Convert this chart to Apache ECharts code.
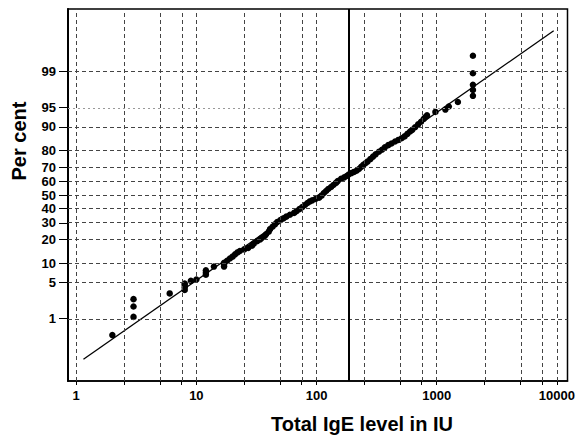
<!DOCTYPE html>
<html>
<head>
<meta charset="utf-8">
<script src="https://cdn.jsdelivr.net/npm/echarts@6/dist/echarts.min.js"></script>
<style>
  html, body { margin: 0; padding: 0; background: #fff; }
  #chart { width: 578px; height: 435px; }
</style>
</head>
<body>
<div id="chart"></div>
<script>
// total IgE (IU) and cumulative per cent
var igeLevels = [2, 3, 3, 3, 6, 8, 8, 8, 8, 9, 10, 12, 12, 12, 14, 17, 17, 17, 18, 19,
  20, 21, 22, 23, 25, 27, 29, 30, 32, 34, 35, 37, 38, 40, 41, 43, 45, 47, 50, 53,
  56, 60, 65, 68, 72, 76, 80, 84, 88, 92, 98, 105, 110, 115, 120, 125, 132, 138, 145, 150,
  160, 170, 178, 185, 195, 205, 215, 225, 235, 245, 255, 265, 280, 295, 310, 330, 350, 370, 395, 420,
  450, 480, 510, 540, 570, 600, 625, 660, 700, 740, 780, 805, 830, 975, 1180, 1260, 1500,
  2000, 2000, 2000, 2000, 2000];
var percents = [0.42, 1.09, 1.79, 2.5, 3.2, 3.7, 4.1, 4.5, 4.8, 5.3, 5.6, 6.7, 7.2, 7.8, 8.9, 8.9, 9.5, 10.1, 10.8, 11.6,
  12.3, 13.2, 14.0, 14.6, 15.3, 16.0, 17.0, 18.0, 19.2, 20.2, 21.0, 22.0, 23.0, 24.5, 26.0, 27.5, 29.0, 30.5, 31.8, 33.0,
  34.2, 35.5, 36.8, 38.0, 39.5, 41.0, 42.5, 44.0, 45.2, 46.0, 47.0, 48.0, 49.5, 51.5, 53.0, 54.5, 56.0, 57.5, 59.0, 60.3,
  62.0, 63.0, 64.0, 65.0, 66.0, 66.8, 67.6, 68.8, 70.2, 71.5, 72.5, 73.5, 75.0, 76.5, 77.8, 79.2, 80.3, 81.5, 82.6, 83.4,
  84.3, 85.0, 85.7, 86.5, 87.5, 88.4, 89.0, 89.9, 90.8, 91.6, 92.4, 92.9, 93.3, 94.1, 94.6, 95.2, 96.0,
  96.9, 97.6, 98.1, 98.9, 99.56];

// fitted log-normal line end points
var fitLevels = [1.15, 9400];
var fitPercents = [0.1, 99.9];

var cutoffLevel = 185;

var yTickPercents = [1, 5, 10, 20, 30, 40, 50, 60, 70, 80, 90, 95, 99];
var xLabelLevels = [1, 10, 100, 1000, 10000];
var xGridLevels = [1, 2.5, 5, 7.5, 10, 25, 50, 75, 100, 250, 500, 750, 1000, 2500, 5000, 7500, 10000];

// inverse normal cdf (Acklam) for probability paper
function probit(p) {
  var a = [-39.69683028665376, 220.9460984245205, -275.9285104469687, 138.3577518672690, -30.66479806614716, 2.506628277459239];
  var b = [-54.47609879822406, 161.5858368580409, -155.6989798598866, 66.80131188771972, -13.28068155288572];
  var c = [-0.007784894002430293, -0.3223964580411365, -2.400758277161838, -2.549732539343734, 4.374664141464968, 2.938163982698783];
  var d = [0.007784695709041462, 0.3224671290700398, 2.445134137142996, 3.754408661907416];
  var q, r;
  if (p < 0.02425) {
    q = Math.sqrt(-2 * Math.log(p));
    return (((((c[0] * q + c[1]) * q + c[2]) * q + c[3]) * q + c[4]) * q + c[5]) /
      ((((d[0] * q + d[1]) * q + d[2]) * q + d[3]) * q + 1);
  }
  if (p > 1 - 0.02425) {
    q = Math.sqrt(-2 * Math.log(1 - p));
    return -(((((c[0] * q + c[1]) * q + c[2]) * q + c[3]) * q + c[4]) * q + c[5]) /
      ((((d[0] * q + d[1]) * q + d[2]) * q + d[3]) * q + 1);
  }
  q = p - 0.5;
  r = q * q;
  return (((((a[0] * r + a[1]) * r + a[2]) * r + a[3]) * r + a[4]) * r + a[5]) * q /
    (((((b[0] * r + b[1]) * r + b[2]) * r + b[3]) * r + b[4]) * r + 1);
}
function px(iu) { return Math.log10(iu); }
function py(pct) { return probit(pct / 100); }

var font = 'Liberation Sans, Arial, sans-serif';

var points = igeLevels.map(function(v, i) { return [px(v), py(percents[i])]; });
var fitLine = fitLevels.map(function(v, i) { return [px(v), py(fitPercents[i])]; });

var gridMarks = xGridLevels.map(function(v) { return { xAxis: px(v) }; })
  .concat(yTickPercents.map(function(p) {
    return { yAxis: py(p), lineStyle: p === 95 ? { color: '#999', type: [2, 3] } : undefined };
  }));

var chart = echarts.init(document.getElementById('chart'), null, { renderer: 'svg' });
chart.setOption({
  animation: false,
  grid: { left: 68, top: 9, right: 9, bottom: 54, show: true, borderColor: '#000', borderWidth: 1.5 },
  xAxis: {
    type: 'value',
    min: -0.068,
    max: 4.088,
    axisLine: { onZero: false, lineStyle: { color: '#000', width: 1.5 } },
    axisTick: {
      customValues: xGridLevels.map(px),
      length: 4,
      lineStyle: { color: '#000' }
    },
    axisLabel: {
      customValues: xLabelLevels.map(px),
      margin: 8,
      color: '#000',
      fontFamily: font,
      fontWeight: 'bold',
      fontSize: 13,
      formatter: function(v) { return String(Math.round(Math.pow(10, v))); }
    },
    splitLine: { show: false }
  },
  yAxis: {
    type: 'value',
    min: -3.5,
    max: 3.5,
    axisLine: { onZero: false, lineStyle: { color: '#000', width: 2 } },
    axisTick: {
      customValues: yTickPercents.map(py),
      length: 9,
      lineStyle: { color: '#000' }
    },
    axisLabel: {
      customValues: yTickPercents.map(py),
      margin: 12,
      color: '#000',
      fontFamily: font,
      fontWeight: 'bold',
      fontSize: 13,
      lineHeight: 11,
      formatter: function(v) {
        for (var i = 0; i < yTickPercents.length; i++) {
          if (Math.abs(py(yTickPercents[i]) - v) < 1e-6) return String(yTickPercents[i]);
        }
        return '';
      }
    },
    splitLine: { show: false }
  },
  graphic: [
    {
      type: 'text',
      x: 19, y: 141,
      rotation: Math.PI / 2,
      style: {
        text: 'Per cent',
        fill: '#000',
        font: 'bold 20px ' + font,
        textAlign: 'center',
        textVerticalAlign: 'middle'
      }
    },
    {
      type: 'text',
      x: 362, y: 424,
      style: {
        text: 'Total IgE level in IU',
        fill: '#000',
        font: 'bold 20px ' + font,
        textAlign: 'center',
        textVerticalAlign: 'middle'
      }
    }
  ],
  series: [
    {
      type: 'line',
      data: fitLine,
      symbol: 'none',
      z: 2,
      lineStyle: { color: '#000', width: 1.3 },
      markLine: {
        silent: true,
        symbol: ['none', 'none'],
        label: { show: false },
        lineStyle: { color: '#444', type: [4, 3], width: 1 },
        data: gridMarks
      }
    },
    {
      type: 'line',
      data: [],
      z: 2,
      markLine: {
        silent: true,
        symbol: ['none', 'none'],
        label: { show: false },
        lineStyle: { color: '#000', type: 'solid', width: 2 },
        data: [{ xAxis: px(cutoffLevel) }]
      }
    },
    {
      type: 'scatter',
      data: points,
      symbol: 'circle',
      symbolSize: 6.5,
      z: 3,
      itemStyle: { color: '#000', opacity: 1 }
    }
  ]
});
</script>
</body>
</html>
